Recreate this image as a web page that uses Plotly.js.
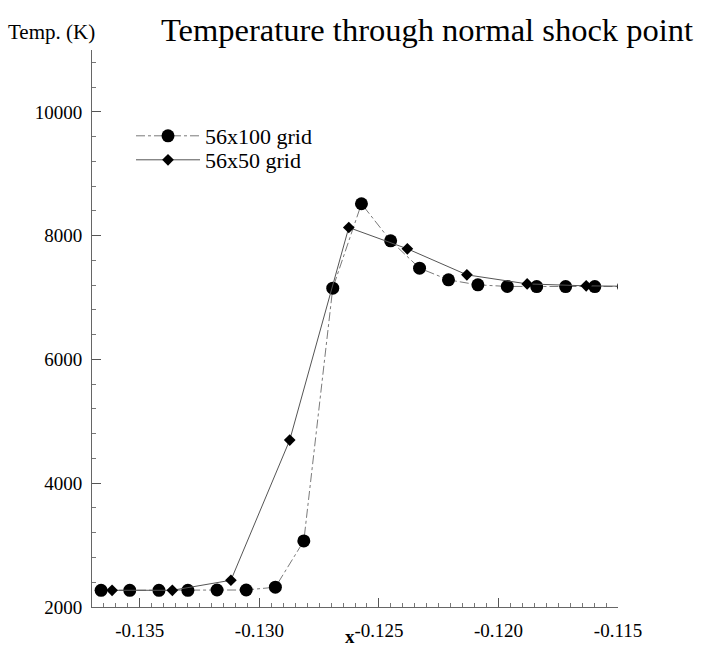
<!DOCTYPE html>
<html>
<head>
<meta charset="utf-8">
<script src="https://cdn.plot.ly/plotly-3.0.1.min.js"></script>
<style>html,body{margin:0;padding:0;background:#fff}#chart{width:702px;height:647px}</style>
</head>
<body>
<div id="chart"></div>
<script>
// 56x100 grid (circles)
const xFine = [-0.13662, -0.13542, -0.13420, -0.13299, -0.13177, -0.13055, -0.12933, -0.12814,
               -0.12693, -0.12573, -0.12451, -0.12330, -0.12209, -0.12086, -0.11963, -0.11840,
               -0.11719, -0.11597, -0.11477];
const tFine = [2270, 2270, 2270, 2270, 2275, 2275, 2320, 3068,
               7152, 8516, 7917, 7475, 7286, 7205, 7180, 7178,
               7178, 7178, 7178];
// 56x50 grid (diamonds)
const xCoarse = [-0.13616, -0.13364, -0.13119, -0.12873, -0.12626, -0.12381, -0.12132, -0.11880, -0.11633, -0.11385];
const tCoarse = [2270, 2270, 2432, 4697, 8132, 7788, 7367, 7221, 7189, 7180];

const seriesNames = ['56x100 grid', '56x50 grid'];
const xTickVals = [-0.135, -0.130, -0.125, -0.120, -0.115];
const xTickText = ['-0.135', '-0.130', '-0.125', '-0.120', '-0.115'];
const yTickVals = [2000, 4000, 6000, 8000, 10000];
const yTickText = ['2000', '4000', '6000', '8000', '10000'];

const serif = 'Liberation Serif';

const traces = [
  {
    x: xFine, y: tFine, name: seriesNames[0], mode: 'lines+markers', type: 'scatter',
    line: {color: '#7a7a7a', width: 1, dash: 'dashdot'},
    marker: {symbol: 'circle', size: 13, color: '#000'},
    legend: 'legend'
  },
  {
    x: xCoarse, y: tCoarse, name: seriesNames[1], mode: 'lines+markers', type: 'scatter',
    line: {color: '#555', width: 1},
    marker: {symbol: 'diamond', size: 9, color: '#000'},
    legend: 'legend2'
  }
];

const legendFont = {family: serif, size: 22, color: '#000'};
const layout = {
  width: 702, height: 647,
  margin: {l: 92, r: 84, t: 50, b: 40, pad: 0},
  paper_bgcolor: '#fff', plot_bgcolor: '#fff',
  font: {family: serif, color: '#000', size: 19},
  showlegend: true,
  legend: {
    x: (131 - 92) / 526, y: (607 - 115) / 557, xanchor: 'left', yanchor: 'top',
    bgcolor: 'rgba(0,0,0,0)', borderwidth: 0, font: legendFont, itemwidth: 64
  },
  legend2: {
    x: (131 - 92) / 526, y: (607 - 139) / 557, xanchor: 'left', yanchor: 'top',
    bgcolor: 'rgba(0,0,0,0)', borderwidth: 0, font: legendFont, itemwidth: 64
  },
  xaxis: {
    range: [-0.137, -0.115],
    tickvals: xTickVals, ticktext: xTickText,
    ticks: 'inside', ticklen: 9, tickwidth: 1, tickcolor: '#555',
    minor: {dtick: 0.0005, tick0: -0.135, ticks: 'inside', ticklen: 4, tickcolor: '#777', tickwidth: 1},
    showgrid: false, zeroline: false,
    showline: true, linecolor: '#666', linewidth: 1,
    tickfont: {family: serif, size: 19, color: '#000'},
    ticklabelstandoff: 6
  },
  yaxis: {
    range: [2000, 11000],
    tickvals: yTickVals, ticktext: yTickText,
    ticks: 'inside', ticklen: 9, tickwidth: 1, tickcolor: '#555',
    minor: {dtick: 400, tick0: 2000, ticks: 'inside', ticklen: 4, tickcolor: '#777', tickwidth: 1},
    showgrid: false, zeroline: false,
    showline: true, linecolor: '#666', linewidth: 1,
    tickfont: {family: serif, size: 19, color: '#000'},
    ticklabelstandoff: 5
  },
  annotations: [
    {text: 'Temperature through normal shock point', xref: 'paper', yref: 'paper',
     x: (159 - 92) / 526, y: 1, xanchor: 'left', yanchor: 'bottom', yshift: 0,
     showarrow: false, font: {family: serif, size: 32.5, color: '#000'}},
    {text: 'Temp. (K)', xref: 'paper', yref: 'paper',
     x: (6 - 92) / 526, y: 1, xanchor: 'left', yanchor: 'bottom', yshift: 4,
     showarrow: false, font: {family: serif, size: 21, color: '#000'}},
    {text: '<b>x</b>', xref: 'paper', yref: 'paper',
     x: (350 - 92) / 526, y: (607 - 647) / 557, xanchor: 'center', yanchor: 'bottom', yshift: -2,
     showarrow: false, font: {family: serif, size: 19, color: '#000'}}
  ]
};

Plotly.newPlot('chart', traces, layout, {displayModeBar: false, staticPlot: true});
</script>
</body>
</html>
